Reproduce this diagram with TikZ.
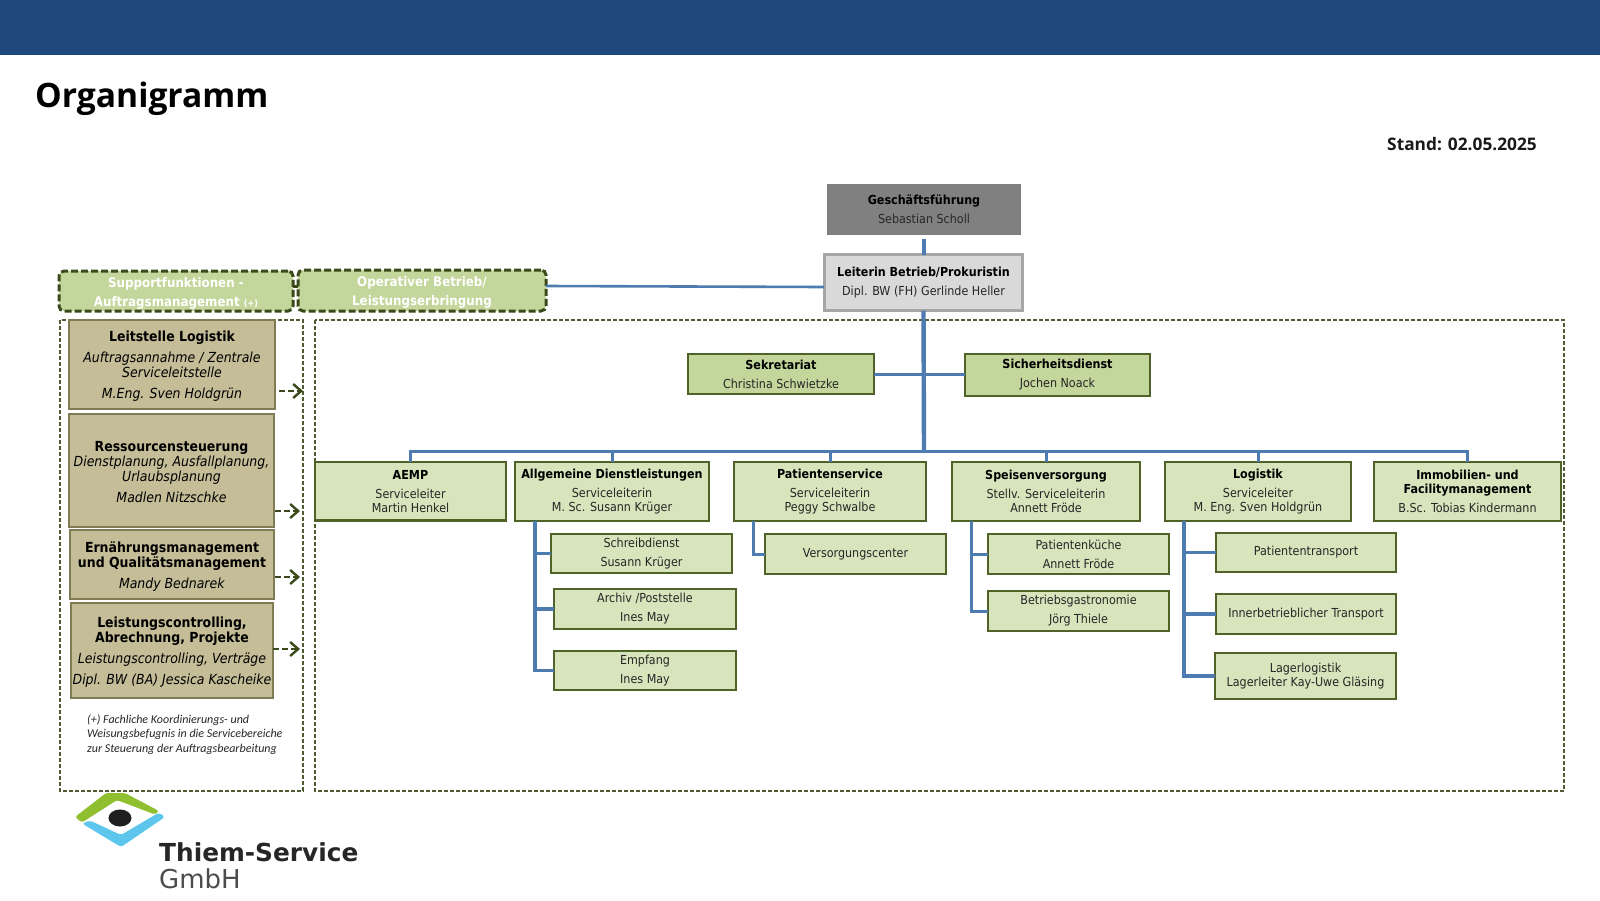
\documentclass[tikz,border=0pt]{standalone}
\usepackage{fontspec}
\usetikzlibrary{arrows.meta}
\setmainfont{DejaVu Sans Condensed}
\newfontfamily\titlefont{Open Sans}
\newfontfamily\logofont{DejaVu Sans}
\newfontfamily\notefont{Carlito}
\definecolor{band}{HTML}{1F497D}
\definecolor{conn}{HTML}{4F7CB0}
\definecolor{leaf}{HTML}{D7E4BC}
\definecolor{mid}{HTML}{C3D69B}
\definecolor{edgeg}{HTML}{4F6228}
\definecolor{darkg}{HTML}{3B4A1A}
\definecolor{tan}{HTML}{C4BD97}
\definecolor{tanedge}{HTML}{7F7B52}
\definecolor{logogreen}{HTML}{8FBF2F}
\definecolor{logoblue}{HTML}{5CC6EC}
\tikzset{
  base/.style={inner sep=0pt,outer sep=0pt,align=center,text=black!85,font=\fontsize{12.4}{14}\selectfont},
  leafbox/.style={base,fill=leaf,draw=edgeg,line width=2.4pt},
  midbox/.style={base,fill=mid,draw=edgeg,line width=2.4pt},
  tanbox/.style={base,fill=tan,draw=tanedge,line width=1.6pt,text=black,font=\fontsize{13.9}{15}\selectfont},
  headbox/.style={base,fill=mid,draw=darkg,line width=3pt,rounded corners=5pt,dash pattern=on 7pt off 3pt,text=white,font=\bfseries\fontsize{13.2}{19}\selectfont},
  frame/.style={draw=darkg!90,line width=1.3pt,dash pattern=on 4pt off 2pt},
  link/.style={draw=conn,line width=3pt},
  thicklink/.style={draw=conn,line width=4.4pt},
  supportarrow/.style={draw=darkg,line width=2.4pt,dash pattern=on 6pt off 3pt,-{Straight Barb[length=8pt,width=14pt,line width=2.4pt]}},
}
\newcommand{\bx}[7]{\node[#6,minimum width={(#4-#2)*1pt},minimum height={(#5-#3)*1pt}] (#1) at ({(#2+#4)/2},{(#3+#5)/2}) {#7};}
\newcommand{\hd}[1]{\textbf{\color{black}#1}}
\newcommand{\pushdown}{\rule{0pt}{14pt}}
\begin{document}
\begin{tikzpicture}[x=1pt,y=-1pt]
\useasboundingbox (0,0) rectangle (1600,900);
\fill[white] (0,0) rectangle (1600,900);
\fill[band] (0,0) rectangle (1600,54.5);
\node[anchor=base west,inner sep=0pt,font=\titlefont\bfseries\fontsize{33.6}{36}\selectfont] (title) at (35,107.5) {Organigramm};
\node[anchor=base west,inner sep=0pt,font=\titlefont\bfseries\fontsize{17.3}{20}\selectfont,text=black!90] (stand) at (1387,150) {Stand: 02.05.2025};
% frames
\draw[frame] (60,320) rectangle (303,791);
\draw[frame] (315,320) rectangle (1564,791);
% top boxes
\bx{ges}{827}{184}{1021}{235}{base,fill=black!50}{\hd{Geschäftsführung}\\[5pt]Sebastian Scholl}
\bx{lei}{824.5}{254.5}{1022.5}{310.5}{base,fill=black!15,draw=black!35,line width=3pt}{\hd{Leiterin Betrieb/Prokuristin}\\[5pt]Dipl. BW (FH) Gerlinde Heller}
\bx{sup}{59}{271}{293}{311}{headbox}{\rule{0pt}{14pt}Supportfunktionen -\\Auftragsmanagement {\fontsize{9}{10}\selectfont (+)}}
\bx{op}{298}{270}{546}{311}{headbox}{\rule{0pt}{13pt}Operativer Betrieb/\\Leistungserbringung}
\bx{sek}{688}{354}{874}{394}{midbox}{\hd{Sekretariat}\\[5pt]Christina Schwietzke}
\bx{sic}{965}{354}{1150}{396}{midbox}{\hd{Sicherheitsdienst}\\[5pt]Jochen Noack}
% row
\bx{aemp}{315}{462}{506}{520.5}{leafbox}{\hd{AEMP}\\[5pt]Serviceleiter\\Martin Henkel}
\bx{allg}{515}{462}{709}{521}{leafbox}{\hd{Allgemeine Dienstleistungen}\\[5pt]Serviceleiterin\\M. Sc. Susann Krüger}
\bx{pat}{734}{462}{926}{521}{leafbox}{\hd{Patientenservice}\\[5pt]Serviceleiterin\\Peggy Schwalbe}
\bx{spe}{952}{462}{1140}{521}{leafbox}{\hd{Speisenversorgung}\\[5pt]Stellv. Serviceleiterin\\Annett Fröde}
\bx{log}{1165}{462}{1351}{521}{leafbox}{\hd{Logistik}\\[5pt]Serviceleiter\\M. Eng. Sven Holdgrün}
\bx{imm}{1374}{462}{1561}{521}{leafbox}{\hd{Immobilien- und}\\\hd{Facilitymanagement}\\[5pt]B.Sc. Tobias Kindermann}
% sub boxes
\bx{schr}{551}{534}{732}{573}{leafbox}{Schreibdienst\\[5pt]Susann Krüger}
\bx{arch}{554}{589}{736}{629}{leafbox}{Archiv /Poststelle\\[5pt]Ines May}
\bx{emp}{554}{651}{736}{690}{leafbox}{Empfang\\[5pt]Ines May}
\bx{vers}{765}{534}{946}{574}{leafbox}{Versorgungscenter}
\bx{kue}{988}{534}{1169}{574}{leafbox}{Patientenküche\\[5pt]Annett Fröde}
\bx{gas}{988}{591}{1169}{631}{leafbox}{Betriebsgastronomie\\[5pt]Jörg Thiele}
\bx{tra}{1216}{533}{1396}{572}{leafbox}{Patiententransport}
\bx{inn}{1216}{594}{1396}{634}{leafbox}{Innerbetrieblicher Transport}
\bx{lag}{1215}{653}{1396}{699}{leafbox}{Lagerlogistik\\Lagerleiter Kay-Uwe Gläsing}
% support boxes
\bx{s1}{69}{320}{275}{409}{tanbox}{\pushdown\hd{Leitstelle Logistik}\\[6pt]\textit{Auftragsannahme / Zentrale}\\\textit{Serviceleitstelle}\\[6pt]\textit{M.Eng. Sven Holdgrün}}
\bx{s2}{69}{414}{274}{527}{tanbox}{\pushdown\hd{Ressourcensteuerung}\\\textit{Dienstplanung, Ausfallplanung,}\\\textit{Urlaubsplanung}\\[6pt]\textit{Madlen Nitzschke}}
\bx{s3}{70}{530}{274}{599}{tanbox}{\pushdown\hd{Ernährungsmanagement}\\\hd{und Qualitätsmanagement}\\[6pt]\textit{Mandy Bednarek}}
\bx{s4}{71}{603}{273}{698}{tanbox}{\pushdown\hd{Leistungscontrolling,}\\\hd{Abrechnung, Projekte}\\[6pt]\textit{Leistungscontrolling, Verträge}\\[6pt]\textit{Dipl. BW (BA) Jessica Kascheike}}
\node[anchor=north west,inner sep=0pt,align=left,text=black!85,font=\notefont\itshape\fontsize{12}{14.5}\selectfont] (note) at (87,714.5) {(+) Fachliche Koordinierungs- und\\Weisungsbefugnis in die Servicebereiche\\zur Steuerung der Auftragsbearbeitung};
% connectors
\coordinate (bus) at (924,451);
\coordinate (tA) at (535,521);
\coordinate (tP) at (753,521);
\coordinate (tS) at (971,521);
\coordinate (tL) at (1184,521);
\coordinate (c1) at (824,287);
\coordinate (c2) at (546,286);
\draw[link,line width=3.4pt,shorten <=4pt] (ges.south) -- (ges.south |- lei.north);
\draw[link,line width=2.6pt] (c1) -- (c2);
\draw[thicklink] (lei.south) -- (bus);
\draw[link] (sek.east) -- (sic.west |- sek.east);
\foreach \n in {aemp,allg,pat,spe,log,imm} \draw[link] (\n.north) |- (bus);
\foreach \n in {schr,arch,emp} \draw[link,line width=3.4pt] (tA) |- (\n.west);
\draw[link] (tP) |- (vers.west);
\foreach \n in {kue,gas} \draw[link] (tS) |- (\n.west);
\foreach \n in {tra,inn,lag} \draw[link,line width=3.4pt] (tL) |- (\n.west);
\draw[darkg,line width=3pt] (sup.east |- c2) -- (op.west |- c2);
% support arrows
\coordinate (a1) at (279,391); \coordinate (b1) at (303,391);
\coordinate (a2) at (275,511); \coordinate (b2) at (300,511);
\coordinate (a3) at (275,577); \coordinate (b3) at (300,577);
\coordinate (a4) at (273,649); \coordinate (b4) at (300,649);
\foreach \i in {1,2,3,4} \draw[supportarrow] (a\i) -- (b\i);
% logo
\fill[logogreen,rounded corners=2.5pt] (75,817) -- (106,793) -- (125,793) -- (159,811) -- (155,814.5) -- (117,800) -- (82,822.5) -- cycle;
\fill[logoblue,rounded corners=3pt] (82,823.5) -- (90,820.5) -- (121,835) -- (159,812.5) -- (165,817) -- (121,847) -- cycle;
\fill[black!88] (120,818) ellipse (11.5 and 8.5);
\node[anchor=base west,inner sep=0pt,text=black!85,font=\logofont\bfseries\fontsize{24.8}{26}\selectfont] (logoa) at (159,861) {Thiem-Service};
\node[anchor=base west,inner sep=0pt,text=black!70,font=\logofont\fontsize{26}{28}\selectfont] (logob) at (159,888) {GmbH};
\end{tikzpicture}
\end{document}
